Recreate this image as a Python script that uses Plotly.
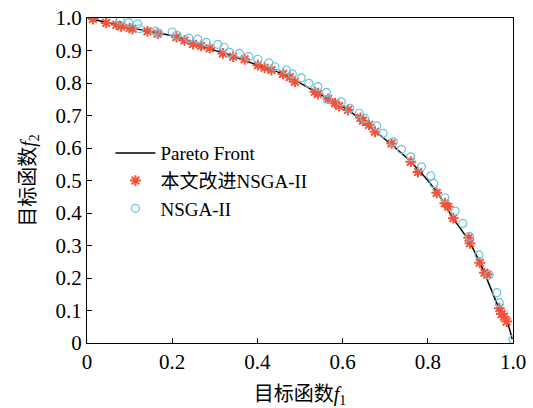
import plotly.graph_objects as go

# Pareto front
front_f1 = [0.013, 0.079, 0.142, 0.208, 0.267, 0.342, 0.400, 0.459, 0.534, 0.612,
            0.676, 0.758, 0.821, 0.859, 0.899, 0.932, 0.969, 0.986, 0.998]
front_f2 = [0.997, 0.976, 0.960, 0.942, 0.914, 0.883, 0.855, 0.828, 0.775, 0.717,
            0.652, 0.560, 0.465, 0.385, 0.308, 0.218, 0.102, 0.065, 0.012]

# improved NSGA-II (red stars)
imp_f1 = [0.014, 0.045, 0.069, 0.080, 0.100, 0.107, 0.142, 0.166, 0.210, 0.229,
          0.249, 0.268, 0.288, 0.319, 0.343, 0.370, 0.401, 0.417, 0.433, 0.460,
          0.476, 0.488, 0.535, 0.542, 0.566, 0.582, 0.592, 0.613, 0.642, 0.648,
          0.662, 0.676, 0.715, 0.760, 0.777, 0.821, 0.840, 0.848, 0.860, 0.896,
          0.899, 0.922, 0.933, 0.940, 0.968, 0.973, 0.979, 0.985]
imp_f2 = [0.997, 0.985, 0.979, 0.974, 0.969, 0.967, 0.959, 0.952, 0.941, 0.931,
          0.920, 0.914, 0.907, 0.891, 0.881, 0.873, 0.855, 0.847, 0.840, 0.828,
          0.818, 0.804, 0.773, 0.766, 0.751, 0.738, 0.729, 0.717, 0.693, 0.684,
          0.671, 0.650, 0.614, 0.558, 0.526, 0.462, 0.430, 0.419, 0.384, 0.324,
          0.307, 0.247, 0.216, 0.211, 0.107, 0.089, 0.081, 0.066]

# NSGA-II (blue circles)
nsga_f1 = [0.078, 0.098, 0.119, 0.123, 0.161, 0.169, 0.200, 0.211, 0.239, 0.260,
           0.280, 0.307, 0.322, 0.335, 0.358, 0.380, 0.401, 0.427, 0.441, 0.468,
           0.482, 0.503, 0.521, 0.542, 0.562, 0.564, 0.597, 0.617, 0.639, 0.652,
           0.680, 0.695, 0.719, 0.738, 0.760, 0.785, 0.807, 0.814, 0.840, 0.864,
           0.882, 0.898, 0.920, 0.944, 0.962, 0.968, 1.000]
nsga_f2 = [0.993, 0.986, 0.982, 0.967, 0.959, 0.952, 0.957, 0.947, 0.938, 0.935,
           0.925, 0.919, 0.910, 0.894, 0.891, 0.881, 0.873, 0.862, 0.850, 0.840,
           0.828, 0.816, 0.799, 0.789, 0.771, 0.750, 0.742, 0.722, 0.707, 0.691,
           0.668, 0.645, 0.619, 0.596, 0.573, 0.542, 0.514, 0.491, 0.447, 0.406,
           0.368, 0.328, 0.271, 0.209, 0.155, 0.124, 0.011]

x_ticks = [0, 0.2, 0.4, 0.6, 0.8, 1.0]
x_tick_text = ["0", "0.2", "0.4", "0.6", "0.8", "1.0"]
y_ticks = [0, 0.1, 0.2, 0.3, 0.4, 0.5, 0.6, 0.7, 0.8, 0.9, 1.0]
y_tick_text = ["0", "0.1", "0.2", "0.3", "0.4", "0.5", "0.6", "0.7", "0.8", "0.9", "1.0"]

FONT = "'Liberation Serif', 'Times New Roman', 'Noto Sans CJK SC', serif"

fig = go.Figure()
fig.add_trace(go.Scatter(x=front_f1, y=front_f2, mode="lines", name="Pareto Front",
                         line=dict(color="black", width=1.5, shape="spline")))
fig.add_trace(go.Scatter(x=imp_f1, y=imp_f2, mode="markers", name="本文改进NSGA-II",
                         marker=dict(symbol="asterisk-open", size=9,
                                     line=dict(color="#e00000", width=2))))
fig.add_trace(go.Scatter(x=nsga_f1, y=nsga_f2, mode="markers", name="NSGA-II",
                         marker=dict(symbol="circle-open", size=8, color="#6fc3e0",
                                     line=dict(color="#6fc3e0", width=1.2))))

axis_common = dict(showgrid=False, zeroline=False, showline=True, linecolor="black",
                   linewidth=1, mirror=True, ticks="inside", ticklen=5, tickcolor="black",
                   automargin=False,
                   tickfont=dict(family=FONT, size=21, color="black"))

fig.update_xaxes(range=[0, 1], tickvals=x_ticks, ticktext=x_tick_text,
                 title=dict(text="目标函数<i>f</i><sub>1</sub>", standoff=14,
                            font=dict(family=FONT, size=20, color="black")),
                 **axis_common)
fig.update_yaxes(range=[0, 1], tickvals=y_ticks, ticktext=y_tick_text,
                 title=dict(text="目标函数<i>f</i><sub>2</sub>", standoff=14,
                            font=dict(family=FONT, size=20, color="black")),
                 **axis_common)

fig.update_layout(
    width=533, height=408,
    margin=dict(l=87, r=20, t=18, b=65),
    paper_bgcolor="white", plot_bgcolor="white",
    font=dict(family=FONT, color="black"),
    legend=dict(x=0.055, y=0.643, xanchor="left", yanchor="top",
                bgcolor="rgba(0,0,0,0)", font=dict(family=FONT, size=19, color="black"),
                tracegroupgap=0, itemwidth=40),
    showlegend=True,
)

fig.write_html("out.html")
